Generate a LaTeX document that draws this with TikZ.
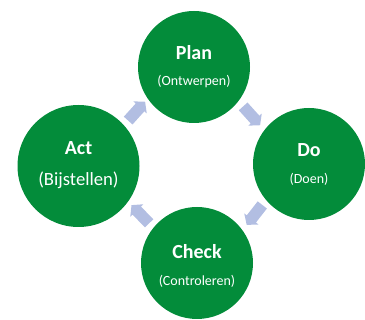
\documentclass[tikz,border=0pt]{standalone}
\usepackage{fontspec}
\setmainfont{Carlito}
\usetikzlibrary{shapes.arrows,calc}
\definecolor{pdcagreen}{RGB}{3,140,58}
\definecolor{pdcaarrow}{RGB}{178,190,226}
\tikzset{every picture/.style={line width=0.75pt}}
\tikzset{
  phase/.style={circle,fill=pdcagreen,draw=none,minimum size=84pt,inner sep=0pt},
  phasetitle/.style={anchor=base,text=white,inner sep=0pt,font=\bfseries\fontsize{15}{18}\selectfont},
  phasesub/.style={anchor=base,text=white,inner sep=0pt,font=\fontsize{10.5}{12}\selectfont},
  cyclearrow/.style={single arrow,fill=pdcaarrow,draw=none,inner xsep=0pt,inner ysep=4pt,minimum height=19pt,single arrow head extend=2.4pt,single arrow tip angle=100}
}

\begin{document}
\begin{tikzpicture}[x=0.75pt,y=0.75pt,yscale=-1,xscale=1]
		\useasboundingbox (0,0) rectangle (365,320);
		
		%Shape: Circle
		\node[phase] (plan) at (194,67) {};
		%Shape: Circle
		\node[phase] (do) at (309,164) {};
		%Shape: Circle
		\node[phase] (check) at (197,263) {};
		%Shape: Circle
		\node[phase,minimum size=91.5pt] (act) at (78.5,166) {};
		
		%Shape: Right Arrow
		\node[cyclearrow,rotate=48] (actplan) at (135,113) {};
		%Shape: Right Arrow
		\node[cyclearrow,rotate=-48] (plando) at (250,114) {};
		%Shape: Right Arrow
		\node[cyclearrow,rotate=-128] (docheck) at (256,213) {};
		%Shape: Right Arrow
		\node[cyclearrow,rotate=134] (checkact) at (142,216) {};
		
		% Text Node
		\node[phasetitle] (plantitle) at ($(plan)+(0,-7)$) {Plan};
		% Text Node
		\node[phasesub] (plansub) at ($(plan)+(0,19)$) {(Ontwerpen)};
		% Text Node
		\node[phasetitle] (dotitle) at ($(do)+(0,-7)$) {Do};
		% Text Node
		\node[phasesub] (dosub) at ($(do)+(0,20)$) {(Doen)};
		% Text Node
		\node[phasetitle] (checktitle) at ($(check)+(0,-4)$) {Check};
		% Text Node
		\node[phasesub] (checksub) at ($(check)+(0,23)$) {(Controleren)};
		% Text Node
		\node[phasetitle] (acttitle) at ($(act)+(0,-11)$) {Act};
		% Text Node
		\node[phasesub,font=\fontsize{14}{16}\selectfont] (actsub) at ($(act)+(0,20)$) {(Bijstellen)};
		
\end{tikzpicture}
\end{document}
